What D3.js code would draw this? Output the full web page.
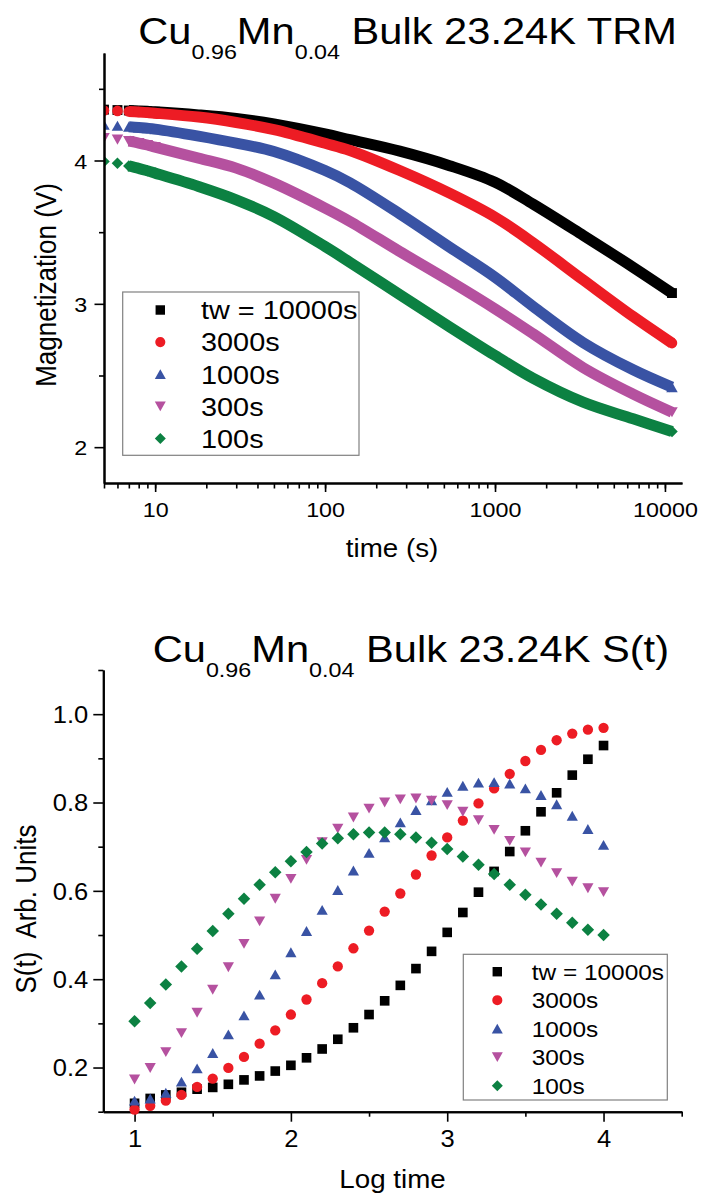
<!DOCTYPE html>
<html>
<head>
<meta charset="utf-8">
<script src="https://cdn.jsdelivr.net/npm/d3@7"></script>
<style>
  html, body { margin: 0; padding: 0; background: #fff; }
  svg { display: block; }
  text { white-space: pre; }
</style>
</head>
<body>
<svg id="chart" width="704" height="1196"></svg>
<script>
// ---- series shared by both panels ----
const seriesNames  = ["tw = 10000s", "3000s", "1000s", "300s", "100s"];
const seriesColors = ["#000000", "#ED1C24", "#3953A4", "#B5519F", "#0C8142"];
const seriesShapes = ["square", "circle", "triangleUp", "triangleDown", "diamond"];

// ---- TRM decay, magnetization (V) vs time (s) ----
const trmTime  = [5, 6, 7, 8, 9, 10, 18, 30, 50, 100, 140, 275, 540, 1000, 1680, 3300, 6500, 11000];
const trm10000 = [4.355, 4.352, 4.349, 4.346, 4.343, 4.340, 4.318, 4.293, 4.255, 4.185, 4.145, 4.065, 3.964, 3.848, 3.695, 3.478, 3.255, 3.075];
const trm3000  = [4.349, 4.346, 4.342, 4.338, 4.334, 4.330, 4.303, 4.265, 4.215, 4.120, 4.070, 3.930, 3.772, 3.605, 3.425, 3.167, 2.911, 2.726];
const trm1000  = [4.249, 4.242, 4.236, 4.230, 4.225, 4.219, 4.170, 4.121, 4.063, 3.930, 3.845, 3.628, 3.396, 3.186, 2.981, 2.730, 2.540, 2.419];
const trm300   = [4.156, 4.146, 4.135, 4.122, 4.108, 4.093, 4.017, 3.947, 3.842, 3.668, 3.575, 3.365, 3.160, 2.965, 2.790, 2.555, 2.370, 2.244];
const trm100   = [3.993, 3.980, 3.962, 3.945, 3.928, 3.912, 3.819, 3.726, 3.609, 3.400, 3.290, 3.065, 2.840, 2.640, 2.480, 2.314, 2.198, 2.109];

// ---- relaxation rate S(t) vs log time ----
const logTime = [1.0, 1.1, 1.2, 1.3, 1.4, 1.5, 1.6, 1.7, 1.8, 1.9, 2.0, 2.1, 2.2, 2.3, 2.4, 2.5,
                 2.6, 2.7, 2.8, 2.9, 3.0, 3.1, 3.2, 3.3, 3.4, 3.5, 3.6, 3.7, 3.8, 3.9, 4.0];
const s10000 = [0.119, 0.130, 0.138, 0.144, 0.151, 0.155, 0.162, 0.172, 0.181, 0.192, 0.205, 0.222, 0.242, 0.264, 0.290, 0.320,
                0.351, 0.386, 0.424, 0.463, 0.506, 0.551, 0.597, 0.644, 0.689, 0.736, 0.779, 0.822, 0.862, 0.898, 0.929];
const s3000  = [0.105, 0.113, 0.125, 0.138, 0.156, 0.175, 0.199, 0.224, 0.254, 0.284, 0.320, 0.354, 0.391, 0.429, 0.470, 0.510,
                0.553, 0.594, 0.637, 0.680, 0.721, 0.759, 0.798, 0.832, 0.865, 0.894, 0.919, 0.941, 0.956, 0.965, 0.969];
const s1000  = [0.125, 0.130, 0.143, 0.168, 0.198, 0.233, 0.275, 0.318, 0.365, 0.411, 0.461, 0.509, 0.557, 0.602, 0.646, 0.686,
                0.721, 0.755, 0.783, 0.805, 0.824, 0.838, 0.845, 0.846, 0.843, 0.832, 0.817, 0.796, 0.770, 0.740, 0.704];
const s300   = [0.173, 0.199, 0.235, 0.278, 0.324, 0.376, 0.427, 0.480, 0.531, 0.582, 0.627, 0.670, 0.710, 0.741, 0.766, 0.786,
                0.800, 0.807, 0.809, 0.804, 0.794, 0.779, 0.760, 0.738, 0.713, 0.687, 0.664, 0.640, 0.621, 0.606, 0.597];
const s100   = [0.305, 0.346, 0.388, 0.429, 0.469, 0.509, 0.548, 0.582, 0.614, 0.642, 0.667, 0.688, 0.707, 0.719, 0.728, 0.732,
                0.732, 0.728, 0.721, 0.709, 0.695, 0.678, 0.659, 0.638, 0.614, 0.591, 0.569, 0.548, 0.528, 0.512, 0.500];

const trmSeries = [trm10000, trm3000, trm1000, trm300, trm100];
const sSeries   = [s10000, s3000, s1000, s300, s100];

// ---- styling ----
const FONT = "Arial, 'Liberation Sans', Helvetica, sans-serif";
const SX = 1.11;               // horizontal glyph stretch
const svg = d3.select("#chart").attr("font-family", FONT);

// marker outline paths centred on (0,0)
function markerPath(shape, s) {
  const h = s / 2;
  switch (shape) {
    case "square":       { const q = h * 0.86; return `M${-q},${-q}H${q}V${q}H${-q}Z`; }
    case "circle":       return d3.symbol(d3.symbolCircle, Math.PI * (h * 0.92) * (h * 0.92))();
    case "triangleUp":   return `M0,${-h * 0.88}L${h},${h * 0.88}L${-h},${h * 0.88}Z`;
    case "triangleDown": return `M0,${h * 0.88}L${h},${-h * 0.88}L${-h},${-h * 0.88}Z`;
    case "diamond":      return `M0,${-h}L${h},0L0,${h}L${-h},0Z`;
  }
}

function stretchedText(parent, x, y, str, size, anchor, rotate) {
  return parent.append("text")
    .attr("transform", `translate(${x},${y}) scale(${SX},1)` + (rotate ? ` rotate(${rotate})` : ""))
    .attr("text-anchor", anchor || "start")
    .attr("font-size", size)
    .attr("fill", "#000")
    .text(str);
}

function formulaTitle(x, y, tail) {
  const t = svg.append("text")
    .attr("transform", `translate(${x},${y}) scale(${SX},1)`)
    .attr("font-size", 37.5).attr("fill", "#000");
  t.append("tspan").text("Cu");
  t.append("tspan").attr("dy", 15).attr("font-size", 21).text("0.96");
  t.append("tspan").attr("dy", -15).text("Mn");
  t.append("tspan").attr("dy", 15).attr("font-size", 21).text("0.04");
  t.append("tspan").attr("dy", -15).text(" " + tail);
}

function styleAxis(g, width) {
  g.attr("font-family", FONT);
  g.select(".domain").attr("stroke", "#000").attr("stroke-width", width);
  g.selectAll(".tick line").attr("stroke", "#000").attr("stroke-width", 1.6);
}

function bottomLabels(g, size, base) {
  g.selectAll(".tick text")
    .attr("y", null).attr("dy", null).attr("x", null)
    .attr("font-size", size).attr("fill", "#000")
    .attr("text-anchor", "middle")
    .attr("transform", `translate(0,${base}) scale(${SX},1)`);
}
function leftLabels(g, size, off) {
  g.selectAll(".tick text")
    .attr("y", null).attr("dy", null).attr("x", null)
    .attr("font-size", size).attr("fill", "#000")
    .attr("text-anchor", "end")
    .attr("transform", `translate(${-off},${size * 0.36}) scale(${SX},1)`);
}

function legend(x, y, w, h, mx, tx, row0, step, size, msize) {
  const g = svg.append("g");
  g.append("rect").attr("x", x).attr("y", y).attr("width", w).attr("height", h)
    .attr("fill", "#fff").attr("stroke", "#808080").attr("stroke-width", 1.2);
  seriesNames.forEach((name, i) => {
    const cy = row0 + i * step;
    g.append("path").attr("d", markerPath(seriesShapes[i], msize))
      .attr("transform", `translate(${mx},${cy})`).attr("fill", seriesColors[i]);
    stretchedText(g, tx, cy + size * 0.36, name, size, "start");
  });
}

// =================== TRM panel ===================
const xT = d3.scaleLog().domain([5, 12600]).range([104, 682]);
const yT = d3.scaleLinear().domain([1.75, 4.75]).range([483, 53]);

svg.append("clipPath").attr("id", "clipTop")
  .append("rect").attr("x", 104).attr("y", 0).attr("width", 600).attr("height", 483);

const topData = trmSeries.map(vals => trmTime.map((t, i) => ({ t, v: vals[i] })));
const band = d3.line().x(d => xT(d.t)).y(d => yT(d.v)).curve(d3.curveCatmullRom.alpha(0.5));

const gTop = svg.append("g").attr("clip-path", "url(#clipTop)");
topData.forEach((pts, k) => {
  gTop.append("path").attr("d", band(pts.filter(d => d.t >= 7)))
    .attr("fill", "none").attr("stroke", seriesColors[k])
    .attr("stroke-width", 11).attr("stroke-linejoin", "round");
  // individual markers where the sampling is still sparse, plus the final reading
  const last = pts[pts.length - 1];
  gTop.selectAll(null).data(pts.filter(d => d.t <= 10 || d === last)).join("path")
    .attr("d", markerPath(seriesShapes[k], 11.5))
    .attr("transform", d => `translate(${xT(d.t)},${yT(d.v)})`)
    .attr("fill", seriesColors[k]);
});

// x axis (log): minor ticks then labelled decades
const xTicks = xT.ticks();
const gxTminor = svg.append("g").attr("transform", "translate(0,483)")
  .call(d3.axisBottom(xT).tickValues(xTicks).tickSize(5.5).tickSizeOuter(0).tickFormat(""));
styleAxis(gxTminor, 2);
const gxTmajor = svg.append("g").attr("transform", "translate(0,483)")
  .call(d3.axisBottom(xT).tickValues(xTicks.filter(t => Math.abs(Math.log10(t) % 1) < 1e-9))
        .tickSize(9).tickSizeOuter(0).tickFormat(d3.format("d")));
styleAxis(gxTmajor, 2);
bottomLabels(gxTmajor, 21, 33.7);

const yTicks = yT.ticks(6);
const gyTminor = svg.append("g").attr("transform", "translate(104,0)")
  .call(d3.axisLeft(yT).tickValues(yTicks.filter(v => v % 1 !== 0)).tickSize(5).tickSizeOuter(0).tickFormat(""));
styleAxis(gyTminor, 2);
const gyTmajor = svg.append("g").attr("transform", "translate(104,0)")
  .call(d3.axisLeft(yT).tickValues(yTicks.filter(v => v % 1 === 0)).tickSize(9.5).tickSizeOuter(0).tickFormat(d3.format("d")));
styleAxis(gyTmajor, 2);
leftLabels(gyTmajor, 21, 16.7);

stretchedText(svg, 392, 557, "time (s)", 25, "middle");
stretchedText(svg, 56, 285, "Magnetization (V)", 26, "middle", -90);
formulaTitle(138.3, 43.5, "Bulk 23.24K TRM");
legend(122.7, 292, 236.3, 163.3, 160.3, 201, 310, 32.1, 26, 11);

// =================== S(t) panel ===================
const xB = d3.scaleLinear().domain([0.8, 4.5]).range([103.3, 681.7]);
const yB = d3.scaleLinear().domain([0.1, 1.1]).range([1111.7, 670]);

const xBTicks = xB.ticks(8);
const gxBminor = svg.append("g").attr("transform", "translate(0,1111.7)")
  .call(d3.axisBottom(xB).tickValues(xBTicks.filter(v => v % 1 !== 0)).tickSize(5).tickSizeOuter(0).tickFormat(""));
styleAxis(gxBminor, 2);
const gxBmajor = svg.append("g").attr("transform", "translate(0,1111.7)")
  .call(d3.axisBottom(xB).tickValues(xBTicks.filter(v => v % 1 === 0)).tickSize(10).tickSizeOuter(0).tickFormat(d3.format("d")));
styleAxis(gxBmajor, 2);
bottomLabels(gxBmajor, 23, 35);

const yBTicks = yB.ticks(10);
const isMajorB = v => Math.round(v * 10) % 2 === 0 && v > 0.15 && v < 1.05;
const gyBminor = svg.append("g").attr("transform", "translate(103.3,0)")
  .call(d3.axisLeft(yB).tickValues(yBTicks.filter(v => !isMajorB(v))).tickSize(5).tickSizeOuter(0).tickFormat(""));
styleAxis(gyBminor, 2);
const gyBmajor = svg.append("g").attr("transform", "translate(103.3,0)")
  .call(d3.axisLeft(yB).tickValues(yBTicks.filter(isMajorB)).tickSize(10).tickSizeOuter(0).tickFormat(d3.format(".1f")));
styleAxis(gyBmajor, 2);
leftLabels(gyBmajor, 23, 15);

const gBot = svg.append("g");
sSeries.forEach((vals, k) => {
  gBot.selectAll(null).data(logTime.map((x, i) => ({ x, v: vals[i] }))).join("path")
    .attr("d", markerPath(seriesShapes[k], k === 4 ? 12.5 : 11.2))
    .attr("transform", d => `translate(${xB(d.x)},${yB(d.v)})`)
    .attr("fill", seriesColors[k]);
});

stretchedText(svg, 392.5, 1188, "Log time", 25, "middle");
stretchedText(svg, 36, 909, "S(t)  Arb. Units", 26, "middle", -90);
formulaTitle(152.7, 661.7, "Bulk 23.24K S(t)");
legend(463.3, 954.3, 204, 145.7, 497.3, 531.7, 971.7, 28.5, 22, 11);
</script>
</body>
</html>
